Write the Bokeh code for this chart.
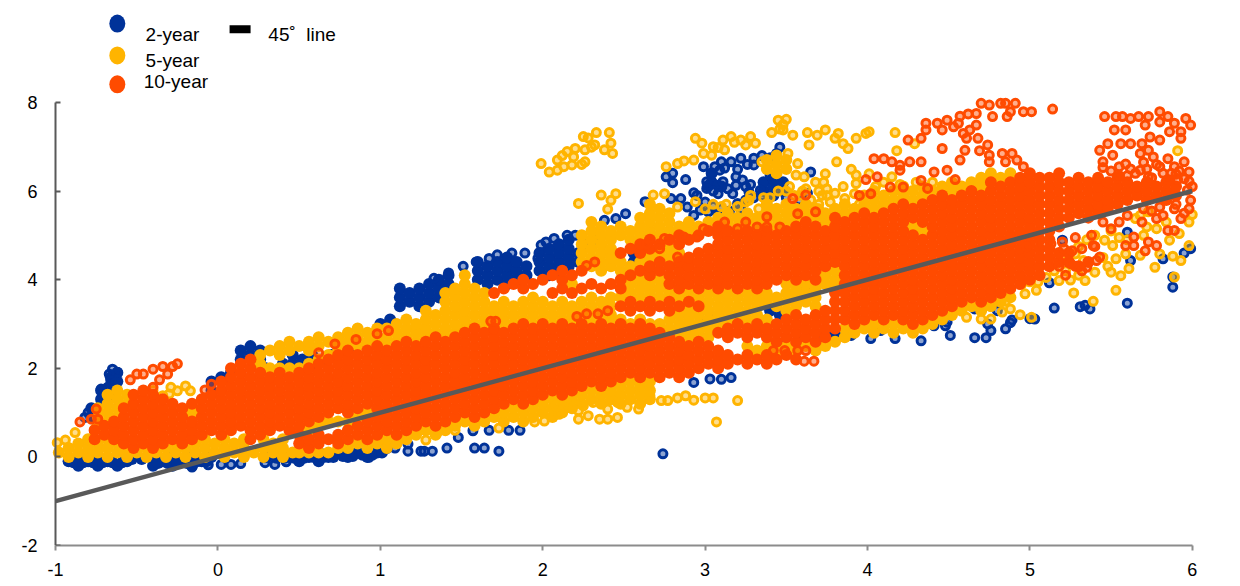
from bokeh.plotting import figure
from bokeh.models import Label, FixedTicker, LinearAxis
from bokeh.embed import file_html
from bokeh.resources import INLINE

BLUE, YELLOW, ORANGE = "#003299", "#FFB400", "#FF4B00"
x_ticks = [-1, 0, 1, 2, 3, 4, 5, 6]
y_ticks = [-2, 0, 2, 4, 6, 8]
line_x = [-1, 6]
line_y = [-1, 6]

# Densely overlapping regions, read column by column: (x, [y values])
blue_dense = [
 (-.92,[-.1]),(-.86,[-.2,0]),(-.80,[-.1]),(-.74,[-.2,0]),(-.68,[-.1]),(-.62,[-.2]),(-.56,[-.1]),
 (-.40,[-.2,0]),(-.34,[-.1]),(-.28,[-.2,0]),(-.22,[-.1]),(-.16,[-.2,0]),(-.10,[-.1]),(-.04,[0]),
 (.30,[0]),(.44,[0]),(.50,[-.1]),(.56,[0]),(.62,[-.1,.1]),(.68,[0]),(.74,[.1]),(.80,[0]),(.86,[.1]),(.92,[0]),(.98,[.1]),(1.04,[.2]),
 (-.72,[1.3,1.5]),(-.66,[1.4,1.6,1.8]),(-.62,[1.7,1.9]),(-.78,[.9,1.1]),
 (-.04,[1.5,1.7]),(.02,[1.8]),(.08,[1.9]),(.14,[2.2,2.4]),(.20,[2.3,2.5]),(.26,[2.2,2.4]),
 (.40,[2.1]),(.46,[2.1,2.3]),(.52,[2.2]),(.58,[2.1,2.3]),(.64,[2.2]),(.70,[2.3]),(.76,[2.4]),(.82,[2.5]),
 (1.00,[3.0]),(1.06,[3.1]),(1.12,[3.4,3.6,3.8]),(1.18,[3.5,3.7]),(1.24,[3.4,3.6,3.8]),(1.30,[3.5,3.7,3.9]),(1.36,[3.6,3.8,4.0]),
 (1.42,[3.9,4.1]),(1.60,[4.0,4.2,4.4]),(1.66,[3.9,4.1,4.3]),(1.72,[4.0,4.2,4.4]),(1.78,[3.9,4.1,4.3,4.5]),(1.84,[4.0,4.2,4.4]),(1.90,[4.1,4.3]),
 (1.98,[4.2,4.4,4.6]),(2.04,[4.1,4.3,4.5,4.7]),(2.10,[4.2,4.4,4.6,4.8]),(2.16,[4.3,4.5,4.7,4.9]),(2.22,[4.4,4.6]),
 (2.56,[4.4,4.6]),(2.62,[4.5,4.7]),(3.36,[6.0,6.2]),(3.42,[5.9,6.1,6.3]),(3.48,[6.0,6.2]),(3.04,[6.2,6.4]),(3.10,[6.1]),
 (3.40,[3.3]),(3.46,[3.2]),(3.00,[3.0]),(3.06,[3.1]),(3.60,[3.8]),(3.66,[3.7]),
 (-.89,[-.12]),(-.83,[-.12]),(-.77,[-.12]),(-.71,[-.12]),(-.65,[-.12]),(-.59,[-.12]),(-.53,[-.05]),(-.47,[-.05]),(-.37,[-.14]),(-.31,[-.14]),(-.25,[-.14]),(-.19,[-.14]),(-.13,[-.1]),(-.07,[-.1]),
 (.36,[-.02]),(.41,[-.02]),(.47,[-.02]),(.53,[-.02]),(.59,[0]),(.65,[0]),(.71,[0]),(.77,[.02]),(.83,[.02]),(.89,[.05]),(.95,[.05]),(1.01,[.1]),
 (3.02,[6.12]),(3.08,[6.12]),(3.74,[2.72]),(3.80,[2.78]),
]
blue_rings = [
 (2.74,.07),(1.73,.13),(1.64,.2),(1.58,.2),(1.41,.2),(1.32,.13),(1.27,.13),(1.48,.44),(1.4,.65),(1.57,.59),(1.67,.6),(1.79,.6),(1.86,.6),
 (3.16,1.79),(3.03,1.76),(2.93,1.68),(3.1,1.75),(.93,-.01),(1.09,.2),(1.17,.29),(1.17,.13),(1.25,.13),(.35,-.17),(.42,-.11),(.14,-.15),(.08,-.17),(.02,-.17),(-.06,-.18),(-.16,-.23),(.29,-.13),
 (-.65,1.98),(-.62,1.91),(-.67,1.87),(-.66,1.72),(-.63,1.68),(-.72,1.53),(-.68,1.57),(-.7,1.34),(-.8,1.0),(-.82,.89),(.29,2.02),(.05,1.76),
 (1.33,4.03),(1.42,4.15),(1.51,4.3),(1.59,4.4),(1.67,4.48),(1.72,4.56),(1.81,4.6),(1.89,4.6),(1.97,4.48),(1.99,4.78),(2.02,4.85),(2.07,4.93),(2.15,5.0),(2.2,5.0),(2.24,4.97),(2.25,4.78),(2.31,4.9),
 (2.76,6.32),(2.8,6.4),(2.8,6.19),(2.88,6.26),(2.99,6.55),(3.1,6.66),(3.16,6.66),(3.22,6.74),(3.3,6.74),(3.3,6.59),(3.44,6.85),(3.46,6.99),(3.09,6.47),(3.2,6.49),(3.19,6.32),(3.23,6.25),
 (3.01,6.21),(3.01,6.06),(3.11,6.21),(3.08,5.94),(2.93,5.96),(3.19,6.13),(3.34,6.02),(3.42,6.25),(3.4,6.36),(3.65,6.43),(2.63,5.76),(2.79,5.83),(2.85,5.83),(2.89,5.64),(2.97,5.57),(3.02,5.53),(3.08,5.49),(2.93,5.45),(3.22,5.6),(3.17,5.94),(3.27,5.98),(2.51,5.49),(2.45,5.38),(2.38,5.34),
 (5.12,3.93),(5.15,3.36),(5.31,3.39),(5.34,3.42),(5.37,3.34),(5.6,3.47),(5.88,3.83),(5.88,4.06),(5.82,4.47),(5.99,4.7),(5.95,4.6),(5.6,5.07),(5.62,4.43),(5.43,5.63),(5.2,4.89),(5.03,3.11),(4.89,3.09),(4.8,3.3),(4.85,2.89),(4.74,3.0),(4.66,3.34),(4.49,3.04),(4.41,2.96),
 (4.02,2.67),(4.17,2.67),(4.33,2.62),(4.51,2.74),(4.66,2.69),(4.73,2.69),(4.76,2.85),(4.88,3.03),(5.0,3.12),(4.48,2.96),(4.23,2.96),(4.08,2.85),(3.9,2.74),(3.71,2.69),(3.59,2.62),(3.46,2.51),
 (2.95,5.9),(3.0,5.75),(3.05,5.65),(3.1,5.6),(3.15,5.55),(3.2,5.72),(3.25,5.8),(3.3,5.85),(3.35,5.9),(3.05,6.0),(3.14,6.05),(3.25,6.1),(3.28,6.15),(3.38,5.7),(3.5,5.85),(3.58,5.8),(3.63,5.95),(3.06,6.55),(3.12,6.52),(3.26,6.6),(3.35,6.8),(3.4,6.75),
]

yellow_dense_left = [
 (-.98,[.1]),(-.92,[0,.2]),(-.86,[.1,.3]),(-.80,[0,.2,.4]),(-.74,[.1,.3,.7,.9,1.1]),(-.68,[0,.2,.4,.8,1.0,1.2,1.4]),(-.62,[.1,.3,.9,1.1,1.3,1.5]),(-.56,[0,.2,1.2,1.4]),
 (-.50,[.1,.3]),(-.44,[0,.2]),(-.38,[.1]),(-.32,[0,.2]),(-.26,[.1,.3]),(-.20,[0,.2,.4]),(-.16,[1.0]),(-.14,[.1,.3]),(-.08,[0,.2,.4]),(-.02,[.1,.3]),(.04,[0,.2,.4]),(.10,[.1,.3]),(.16,[0,.2,.4]),(.22,[.1]),(.28,[0,.2,.4]),(.34,[.1,.3]),(.40,[0,.2,.4]),
 (.46,[.1]),(.50,[.1,.6]),(.56,[.1,.6]),(.62,[.1,.7]),(.68,[.1,.8]),(.74,[.2,.8]),(.80,[.2,.8]),(.86,[.3,.9]),(.92,[.2,1.0]),(.98,[.3]),(1.04,[.2,.4]),(1.10,[.3]),(1.16,[.4]),(1.22,[.5]),(1.28,[.6]),
 (.26,[2.1,2.3]),(.32,[2.0,2.4]),(.38,[2.0,2.3,2.5]),(.44,[2.0,2.4,2.6]),(.50,[2.0,2.5]),(.56,[2.1,2.4,2.6]),(.62,[2.2,2.5,2.7]),(.68,[2.3,2.6]),(.74,[2.4,2.5,2.7]),(.80,[2.5,2.6,2.8]),(.86,[2.5,2.7,2.9]),(.92,[2.6,2.8]),(.98,[2.6,2.7,2.9]),(1.04,[2.5,2.7,2.9]),(1.10,[2.6,2.8,3.0]),
]
yellow_dense_mid = [
 (1.16,[2.7,2.9,3.1]),(1.22,[2.6,2.8,3.0]),(1.28,[2.7,2.9,3.1,3.3]),(1.34,[2.8,3.0,3.2]),(1.40,[2.7,2.9,3.1,3.3,3.5,3.7]),(1.46,[2.8,3.0,3.2,3.4,3.6,3.8]),(1.52,[2.9,3.1,3.3,3.5,3.7,3.9,4.1]),(1.58,[3.0,3.2,3.4,3.6,3.8]),(1.64,[2.9,3.1,3.3,3.5,3.7]),
 (1.70,[3.0,3.2,3.4]),(1.76,[2.9,3.1,3.3,3.5]),(1.82,[3.0,3.2,3.4]),(1.88,[3.1,3.3,3.5]),(1.94,[3.0,3.2,3.4,3.6]),(2.00,[3.1,3.3,3.5]),(2.06,[3.0,3.2,3.4]),(2.12,[3.1,3.3,3.5]),
 (2.18,[3.0,3.2,3.4,3.9]),(2.24,[3.1,3.3,3.5,4.4,4.6,4.8,5.0]),(2.30,[3.0,3.2,3.4,3.6,4.3,4.5,4.7,4.9,5.1,5.3]),(2.36,[3.1,3.3,3.5,4.2,4.4,4.6,4.8,5.0,5.2]),(2.42,[3.0,3.2,3.4,3.6,4.3,4.5,4.7,4.9,5.1]),
 (2.48,[3.1,3.6,4.2,4.4,5.0,5.2]),(2.54,[3.0,3.7,3.9,4.3,4.9,5.1]),(2.60,[3.1,3.6,3.8,4.0,4.4,5.0,5.2,5.4]),(2.66,[3.0,3.7,3.9,4.5,5.1,5.3,5.5,5.7]),(2.72,[3.0,3.6,3.8,4.0,4.6,5.0,5.2,5.4,5.6]),(2.78,[2.9,3.1,3.7,4.5,4.7,5.1,5.3,5.5]),
 (2.84,[2.8,3.0,3.2,3.6,4.6,5.2]),(2.90,[2.7,2.9,3.1,3.3,3.7,5.1,5.3]),(2.96,[2.8,3.0,3.2,3.6,5.2]),(3.02,[2.7,2.9,3.1,3.3,3.5,3.7,5.3]),(3.08,[3.0,3.2,3.4,3.6,5.4]),
 (3.14,[3.1,3.3,3.5,3.7,5.3,5.5]),(3.20,[3.2,3.4,3.6,5.2,5.4]),(3.26,[3.1,3.3,3.5,3.7,2.5,5.3,5.5]),(3.32,[3.2,3.4,3.6,2.4,5.2,5.4]),(3.38,[3.1,3.5,3.7,2.5,5.3,5.5,5.7,6.5,6.7]),(3.44,[3.4,3.6,2.4,5.2,5.4,5.6,6.4,6.6,6.8]),(3.50,[3.3,3.5,3.7,3.9,2.5,5.3,5.5,5.7,6.5,6.7]),(3.56,[3.4,3.6,3.8,2.4,5.4,5.6]),(3.62,[3.5,3.7,3.9,2.5,5.5,5.7]),(3.68,[3.4,3.6,3.8,2.4,5.4,5.6]),
 (3.74,[2.5,3.9,4.1,5.3,5.5]),(3.80,[2.6,3.8,4.0,4.2,5.4,5.6]),(3.86,[2.7,2.9,5.5,5.7]),(3.92,[2.8,5.6]),(3.98,[2.9,5.7,5.9]),(4.04,[2.8,3.0,5.6,5.8,6.0]),(4.10,[2.9,5.7,5.9]),(4.16,[2.8,3.0,5.8,6.0]),(4.22,[2.9,5.9,6.1]),(4.28,[2.8,5.2,5.8,6.0]),(4.34,[2.9,5.1,5.9,6.1]),(4.40,[3.0,6.0]),(4.46,[3.1,6.1]),(4.52,[3.2,6.0,6.2]),(4.58,[3.3,6.1]),(4.64,[3.4,6.2]),(4.70,[3.3,6.1,6.3]),(4.76,[3.4,6.4]),(4.82,[3.5,6.3]),(4.88,[3.6,6.4]),
 (1.34,[.5]),(1.40,[.6]),(1.46,[.7]),(1.52,[.8]),(1.58,[.7]),(1.64,[.8]),(1.70,[.9]),(1.76,[.8,1.0]),(1.82,[.9,1.1]),(1.88,[.8,1.0]),(1.94,[.9,1.1]),(2.00,[1.0,1.2]),(2.06,[.9,1.1,1.3]),(2.12,[1.0,1.2]),(2.18,[1.1,1.3]),(2.24,[1.2,1.4]),(2.30,[1.3,1.5]),(2.36,[1.2,1.4]),(2.42,[1.3,1.5]),(2.48,[1.2,1.4,1.6]),(2.54,[1.3,1.5,1.7]),(2.60,[1.2,1.4,1.6]),(2.66,[1.3,1.5,1.7]),
]
yellow_rings = [
 (-.99,.32),(-.94,.38),(-.88,.55),(-.76,.62),(-.29,1.57),(-.25,1.49),(-.2,1.6),(-.17,1.49),(-.34,1.38),(-.4,1.5),(-.3,1.42),
 (1.99,6.62),(2.04,6.43),(2.09,6.47),(2.09,6.7),(2.13,6.55),(2.15,6.89),(2.19,6.77),(2.2,6.96),(2.18,6.59),(2.26,6.66),(2.26,6.93),(2.25,7.23),(2.32,7.04),(2.33,7.32),(2.41,7.32),(2.38,6.93),(2.42,7.08),(2.43,6.85),(2.22,5.72),(2.36,5.91),(2.45,5.94),(2.42,5.79),(2.4,5.59),(2.28,7.2),(2.3,6.99),(2.12,6.8),(2.24,6.6),
 (2.76,6.55),(2.83,6.62),(2.87,6.68),(2.93,6.7),(3.04,6.81),(2.99,6.85),(2.94,7.19),(2.98,7.08),(3.05,7.0),(3.11,7.15),(3.16,7.23),(3.22,7.15),(3.28,7.23),(3.31,7.08),(3.25,7.04),(3.12,6.93),(3.08,6.98),(3.18,7.1),
 (3.41,7.32),(3.45,7.6),(3.5,7.62),(3.48,7.38),(3.54,7.26),(3.63,7.32),(3.69,7.26),(3.64,7.04),(3.35,6.66),(3.57,6.62),(3.56,6.36),(3.61,6.32),(3.51,6.85),(3.46,7.4),(3.48,7.5),
 (2.94,5.76),(2.83,5.64),(2.68,5.91),(2.75,5.94),(3.27,5.79),(3.36,5.85),(3.4,5.85),(3.0,5.6),(3.05,5.7),(3.1,5.65),(3.28,5.9),(3.33,5.6),(3.45,6.0),(3.52,6.1),(3.58,5.9),(3.62,6.05),(3.7,6.0),(3.75,5.9),(3.68,6.2),
 (3.13,5.7),(3.2,5.65),(3.25,5.75),(3.5,6.0),(3.55,5.9),(3.6,6.0),(3.65,5.8),(3.7,5.7),(3.72,5.9),(3.55,5.6),(3.75,6.05),(3.8,5.95),(3.85,6.1),(3.95,5.7),(4.05,6.1),(4.1,6.2),(4.2,6.15),(4.3,6.2),(4.4,6.2),(3.7,5.6),(3.72,5.5),
 (4.01,7.34),(3.82,7.3),(3.74,7.38),(3.8,7.19),(3.85,7.07),(3.93,7.19),(3.88,6.96),(4.17,7.32),(4.18,6.91),(4.29,7.07),(3.81,6.66),(3.9,6.49),(3.93,6.36),(3.93,6.17),(3.74,6.39),(3.73,6.2),(4.01,6.39),(4.15,6.32),(3.77,5.75),(3.86,5.83),(3.92,5.94),(5.91,6.91),(4.63,6.13),(3.99,7.3),
 (6,5.47),(5.98,5.3),(5.84,5.3),(5.68,5.45),(5.73,5.53),(5.65,5.38),(5.72,5.19),(5.46,4.89),(5.51,4.77),(5.53,4.47),(5.59,4.58),(5.61,4.25),(5.56,4.09),(5.5,4.17),(5.4,4.17),(5.77,4.28),(5.88,4.53),(5.93,4.43),(5.98,4.77),(5.92,5.04),(5.86,4.89),(5.8,4.58),(5.68,4.55),(5.89,4.06),
 (5.5,5.1),(5.4,5.0),(5.35,4.9),(5.3,4.75),(5.55,4.95),(5.6,4.9),(5.7,5.0),(5.78,5.15),(5.2,4.55),(5.15,4.2),(5.1,4.05),(5.22,4.2),(5.45,4.5),(5.48,4.3),(5.3,4.1),(5.05,3.95),(5.0,3.95),(4.95,3.9),
 (5.53,3.76),(5.39,3.51),(5.27,3.7),(5.34,3.98),(5.25,3.99),(5.18,3.98),(5.28,4.58),(5.33,4.43),(5.04,3.76),(4.97,3.68),(4.85,3.51),(4.88,3.34),(4.94,3.21),(5.01,3.15),(4.83,3.27),(4.76,3.11),(4.7,3.11),(4.61,3.15),(4.37,3.0),
 (3.2,1.27),(3.07,.79),(3.05,1.33),(3.0,1.33),(2.93,1.28),(2.88,1.38),(2.83,1.33),(2.77,1.27),(2.73,1.27),(2.66,1.38),(2.59,1.08),(2.52,1.12),(2.46,.89),(2.4,.85),(2.35,.85),(2.28,.93),(2.22,.85),(2.22,1.04),(2.25,1.15),(2.1,.96),(2.08,1.15),(2.01,.81),(1.95,.79),(1.73,.65),(1.46,.6),(1.35,.55),(1.28,.38),(2.15,1.19),(2.31,1.23),(2.4,1.08),(2.46,1.23),
]

orange_dense_left = [
 (-.76,[.4,.6]),(-.70,[.5,.7]),(-.64,[.4,.6,.8]),(-.58,[.3,.5,.7,.9,1.1]),(-.52,[.2,.4,.6,.8,1.0,1.2,1.4]),(-.46,[.3,.5,.7,.9,1.1,1.3,1.5]),(-.40,[.2,.4,.6,.8,1.0,1.2,1.4]),(-.34,[.3,.5,.7,.9,1.1,1.3]),(-.28,[.4,.6,.8,1.0,1.2]),(-.22,[.3,.5,.7,.9,1.1]),(-.16,[.4,.6,.8,1.2]),(-.10,[.5,.7,.9,1.1,1.3]),(-.04,[.6,.8,1.0,1.2,1.4]),
 (.02,[.5,.7,.9,1.1,1.3,1.5,1.7]),(.08,[.6,.8,1.0,1.2,1.4,1.6,1.8,2.0]),(.14,[.7,.9,1.1,1.3,1.5,1.7,1.9,2.1]),(.20,[.4,.6,.8,1.0,1.2,1.4,1.6,1.8,2.0,2.2]),(.26,[.5,.7,.9,1.1,1.3,1.5,1.7,1.9]),(.32,[.6,.8,1.0,1.2,1.4,1.6,1.8]),(.38,[.7,.9,1.1,1.3,1.5,1.7,1.9]),(.44,[.6,.8,1.0,1.2,1.4,1.6,1.8]),
 (.50,[.3,.5,.7,.9,1.1,1.3,1.5,1.7,1.9]),(.56,[.2,.4,.8,1.0,1.2,1.4,1.6,1.8,2.0]),(.62,[.3,.5,.9,1.1,1.3,1.5,1.7,1.9,2.1]),(.68,[.4,1.0,1.2,1.4,1.6,1.8,2.0,2.2]),(.74,[.3,.5,1.1,1.3,1.5,1.7,1.9,2.1,2.3]),(.80,[.4,.6,1.0,1.2,1.4,1.6,1.8,2.0,2.2,2.4]),(.86,[.5,.7,1.1,1.3,1.5,1.7,1.9,2.1,2.3]),(.92,[.4,.6,.8,1.2,1.4,1.6,1.8,2.0,2.2,2.4]),
 (.98,[.5,.7,.9,1.1,1.3,1.5,1.7,1.9,2.1,2.3,2.5]),(1.04,[.6,.8,1.0,1.2,1.4,1.6,1.8,2.0,2.2,2.4]),(1.10,[.5,.7,.9,1.1,1.3,1.5,1.7,1.9,2.1,2.3,2.5]),(1.16,[.6,.8,1.0,1.2,1.4,1.6,1.8,2.0,2.2,2.4,2.6]),(1.22,[.7,.9,1.1,1.3,1.5,1.7,1.9,2.1,2.3,2.5]),(1.28,[.8,1.0,1.2,1.4,1.6,1.8,2.0,2.2,2.4,2.6]),
 (1.34,[.7,.9,1.1,1.3,1.5,1.7,1.9,2.1,2.3,2.5,2.7]),(1.40,[.8,1.0,1.2,1.4,1.6,1.8,2.0,2.2,2.4,2.6]),(1.46,[.9,1.1,1.3,1.5,1.7,1.9,2.1,2.3,2.5,2.7]),(1.52,[1.0,1.2,1.4,1.6,1.8,2.0,2.2,2.4,2.6,2.8]),(1.58,[.9,1.1,1.3,1.5,1.7,1.9,2.1,2.3,2.5,2.7,2.9]),(1.64,[1.0,1.2,1.4,1.6,1.8,2.0,2.2,2.4,2.6,2.8]),
]
orange_dense_mid = [
 (1.70,[1.1,1.3,1.5,1.7,1.9,2.1,2.3,2.5,2.7,2.9,3.7]),(1.76,[1.2,1.4,1.6,1.8,2.0,2.2,2.4,2.6,2.8,3.8]),(1.82,[1.3,1.5,1.7,1.9,2.1,2.3,2.5,2.7,2.9,3.9]),(1.88,[1.2,1.4,1.6,1.8,2.0,2.2,2.4,2.6,2.8,3.0,3.8,4.0]),(1.94,[1.3,1.5,1.7,1.9,2.1,2.3,2.5,2.7,2.9,3.9]),(2.00,[1.4,1.6,1.8,2.0,2.2,2.4,2.6,2.8,3.0,4.0]),
 (2.06,[1.5,1.7,1.9,2.1,2.3,2.5,2.7,2.9,3.7,4.1]),(2.12,[1.4,1.6,1.8,2.0,2.2,2.4,2.6,2.8,3.0,3.8,4.0,4.2]),(2.18,[1.5,1.7,1.9,2.1,2.3,2.5,2.7,2.9,3.7,4.1]),(2.24,[1.6,1.8,2.0,2.2,2.4,2.6,2.8,3.0,3.8,4.2]),(2.30,[1.7,1.9,2.1,2.3,2.5,2.7,2.9,3.9]),(2.36,[1.6,1.8,2.0,2.2,2.4,2.6,2.8,3.0,3.8]),(2.42,[1.7,1.9,2.1,2.3,2.5,2.7,2.9,3.9]),
 (2.48,[1.8,2.0,2.2,2.4,2.6,2.8,3.0,3.4,3.8,4.0,4.6]),(2.54,[1.9,2.1,2.3,2.5,2.7,2.9,3.3,3.5,4.1,4.7]),(2.60,[1.8,2.0,2.2,2.4,2.6,2.8,3.0,3.4,4.2,4.6,4.8]),(2.66,[1.9,2.1,2.3,2.5,2.7,2.9,3.3,3.5,4.1,4.3,4.7,4.9]),(2.72,[1.8,2.0,2.2,2.4,2.6,2.8,3.4,4.2,4.4,4.8]),(2.78,[1.9,2.1,2.3,2.5,2.7,3.3,3.5,3.9,4.1,4.3,4.9]),
 (2.84,[1.8,2.0,2.2,2.4,2.6,3.4,3.8,4.0,4.2,4.4,4.8,5.0]),(2.90,[1.9,2.1,2.3,2.5,3.5,3.9,4.1,4.3,4.5,4.9]),(2.96,[2.0,2.2,2.4,2.6,3.4,3.8,4.0,4.2,4.4,4.6,5.0]),(3.02,[2.1,2.3,2.5,3.9,4.1,4.3,4.5,4.7,5.1]),(3.08,[2.0,2.2,2.4,2.8,3.8,4.0,4.2,4.4,4.6,4.8,5.0,5.2]),
 (3.14,[2.1,2.3,2.7,2.9,3.9,4.1,4.3,4.5,4.7,4.9,5.1]),(3.20,[2.2,2.8,3.0,3.8,4.0,4.2,4.4,4.6,4.8,5.0]),(3.26,[2.1,2.3,2.7,2.9,3.9,4.1,4.3,4.5,4.7,4.9,5.1]),(3.32,[2.2,2.8,3.0,3.8,4.0,4.2,4.4,4.6,4.8,5.0]),(3.38,[2.1,2.3,2.7,2.9,3.9,4.1,4.3,4.5,4.7,4.9,5.1]),(3.44,[2.2,2.6,2.8,3.0,4.0,4.2,4.4,4.6,4.8,5.0]),(3.50,[2.3,2.7,2.9,3.1,4.1,4.3,4.5,4.7,4.9,5.1]),(3.56,[2.2,2.6,2.8,3.0,3.2,4.0,4.2,4.4,4.6,4.8,5.0,5.2]),(3.62,[2.7,2.9,3.1,4.1,4.3,4.5,4.7,4.9,5.1,5.3]),(3.68,[2.6,2.8,3.0,3.2,4.0,4.2,4.4,4.6,4.8,5.0,5.2]),
 (3.74,[2.7,2.9,3.1,3.3,4.3,4.5,4.7,4.9,5.1]),(3.80,[2.9,3.1,3.3,3.5,3.7,4.4,4.6,4.8,5.0,5.2,5.4]),
]
orange_dense_right = [
 (3.86,[3.1,3.3,3.5,3.7,3.9,4.1,4.3,4.5,4.7,4.9,5.1,5.3]),(3.92,[3.0,3.2,3.4,3.6,3.8,4.0,4.2,4.4,4.6,4.8,5.0,5.2,5.4]),(3.98,[3.1,3.3,3.5,3.7,3.9,4.1,4.3,4.5,4.7,4.9,5.1,5.3,5.5]),(4.04,[3.2,3.4,3.6,3.8,4.0,4.2,4.4,4.6,4.8,5.0,5.2,5.4]),(4.10,[3.1,3.3,3.5,3.7,3.9,4.1,4.3,4.5,4.7,4.9,5.1,5.3,5.5]),(4.16,[3.2,3.4,3.6,3.8,4.0,4.2,4.4,4.6,4.8,5.0,5.2,5.4,5.6]),(4.22,[3.1,3.3,3.5,3.7,3.9,4.1,4.3,4.5,4.7,4.9,5.1,5.3,5.5,5.7]),
 (4.28,[3.0,3.2,3.4,3.6,3.8,4.0,4.2,4.4,4.6,4.8,5.0,5.4,5.6]),(4.34,[3.1,3.3,3.5,3.7,3.9,4.1,4.3,4.5,4.7,4.9,5.3,5.5,5.7]),(4.40,[3.2,3.4,3.6,3.8,4.0,4.2,4.4,4.6,4.8,5.0,5.2,5.4,5.6,5.8]),(4.46,[3.3,3.5,3.7,3.9,4.1,4.3,4.5,4.7,4.9,5.1,5.3,5.5,5.7,5.9]),(4.52,[3.4,3.6,3.8,4.0,4.2,4.4,4.6,4.8,5.0,5.2,5.4,5.6,5.8]),(4.58,[3.5,3.7,3.9,4.1,4.3,4.5,4.7,4.9,5.1,5.3,5.5,5.7,5.9]),
 (4.64,[3.6,3.8,4.0,4.2,4.4,4.6,4.8,5.0,5.2,5.4,5.6,5.8,6.0]),(4.70,[3.5,3.7,3.9,4.1,4.3,4.5,4.7,4.9,5.1,5.3,5.5,5.7,5.9]),(4.76,[3.6,3.8,4.0,4.2,4.4,4.6,4.8,5.0,5.2,5.4,5.6,5.8,6.0,6.2]),(4.82,[3.7,3.9,4.1,4.3,4.5,4.7,4.9,5.1,5.3,5.5,5.7,5.9,6.1]),(4.88,[3.8,4.0,4.2,4.4,4.6,4.8,5.0,5.2,5.4,5.6,5.8,6.0,6.2]),(4.94,[3.9,4.1,4.3,4.5,4.7,4.9,5.1,5.3,5.5,5.7,5.9,6.1,6.3]),(5.00,[4.0,4.2,4.4,4.6,4.8,5.0,5.2,5.4,5.6,5.8,6.0,6.2,6.4]),(5.06,[4.1,4.3,4.5,4.7,4.9,5.1,5.3,5.5,5.7,5.9,6.1,6.3]),
 (5.12,[4.3,4.5,4.7,4.9,5.1,5.3,5.5,5.7,5.9,6.1,6.3]),(5.18,[4.4,4.6,5.2,5.4,5.6,5.8,6.0,6.2,6.4]),(5.24,[4.4,4.6,5.4,5.6,5.8,6.0,6.2]),(5.30,[4.3,5.5,5.7,5.9,6.1,6.3]),(5.36,[4.4,5.4,5.6,5.8,6.0,6.2]),(5.42,[5.5,5.7,5.9,6.1,6.3]),(5.48,[5.6,5.8,6.0,6.2]),(5.54,[5.7,5.9,6.1,6.3]),(5.60,[5.8,6.0,6.2]),(5.66,[5.9,6.1]),(5.72,[5.8,6.0,6.2]),(5.78,[5.9,6.1]),(5.84,[5.8,6.0,6.2]),(5.90,[5.9,6.1]),
]
orange_rings = [
 (-.85,.79),(-.78,.85),(-.74,.85),(-.75,1.08),(-.54,1.74),(-.5,1.87),(-.46,1.87),(-.4,1.98),(-.34,2.04),(-.31,1.87),(-.28,2.04),(-.25,2.1),(-.36,1.74),(-.4,1.57),(-.04,1.64),(-.08,1.51),(-.39,1.34),
 (3.54,5.83),(3.62,5.91),(3.38,5.42),(3.38,5.19),(3.57,5.49),(3.68,5.53),(2.87,4.96),(2.95,4.96),(2.99,5.15),(3.12,5.3),(3.2,5.15),(3.25,5.3),(3.32,5.19),(3.46,5.19),(2.27,4.32),(2.32,4.4),(2.4,3.3),(2.21,3.17),(2.27,3.23),(2.34,3.23),(2.83,4.51),(2.72,4.7),(2.64,4.81),(2.75,4.93),(1.68,3.06),(1.71,3.06),
 (3.61,2.16),(3.67,2.16),(3.57,2.4),(3.62,2.4),(3.49,2.4),(3.42,2.4),(.62,2.35),(.72,2.55),(.85,2.65),(.98,2.78),(1.05,2.85),
 (4.25,7.15),(4.33,7.19),(4.36,7.53),(4.36,7.38),(4.43,7.53),(4.46,7.38),(4.49,7.6),(4.53,7.45),(4.56,7.53),(4.57,7.69),(4.62,7.74),(4.67,7.75),(4.70,7.98),(4.75,7.94),(4.82,7.98),(4.85,7.98),(4.91,7.98),(4.88,7.79),(4.77,7.68),(4.86,7.68),(4.96,7.79),(5.01,7.79),(5.14,7.85),
 (4.59,7.3),(4.63,7.38),(4.67,7.49),(4.61,7.19),(4.68,7.19),(4.74,7.04),(4.6,6.92),(4.69,6.91),(4.75,6.81),(4.75,6.66),(4.57,6.7),(4.46,6.96),(4.83,6.85),(4.89,6.85),(4.85,6.66),(4.92,6.7),(4.96,6.55),
 (4.04,6.73),(4.1,6.73),(4.15,6.66),(4.2,6.58),(4.26,6.66),(4.33,6.66),(4.2,6.47),(4.41,6.43),(4.49,6.47),(4.54,6.26),(3.99,6.26),(4.06,6.32),(4.02,5.94),(4.14,6.09),(4.22,6.09),(4.33,6.24),(4.37,6.06),(3.95,5.9),
 (5.46,7.68),(5.53,7.68),(5.57,7.68),(5.62,7.64),(5.67,7.68),(5.73,7.68),(5.8,7.79),(5.85,7.68),(5.96,7.64),(5.99,7.49),(5.89,7.53),(5.8,7.56),(5.71,7.49),(5.59,7.38),(5.52,7.38),(5.93,7.34),(5.86,7.34),(5.93,7.19),(5.8,7.15),(5.74,7.22),(5.69,7.07),(5.62,7.07),(5.56,7.07),(5.48,7.07),(5.43,6.92),(5.51,6.81),(5.68,6.85),(5.45,6.66),(5.45,6.53),(5.59,6.61),(5.73,6.92),(5.76,6.77),(5.85,6.73),(5.95,6.66),(5.98,6.43),(5.89,6.55),(5.8,6.55),(5.68,6.47),(5.85,6.26),(5.91,6.26),(5.73,6.32),(5.78,6.6),(5.62,6.5),(5.7,6.65),(5.92,6.45),
 (5.5,6.45),(5.55,6.55),(5.65,6.4),(5.72,6.5),(5.82,6.4),(5.9,6.38),(5.95,6.28),(6.0,6.1),(5.98,6.22),(5.87,6.4),(5.6,6.35),(5.75,6.3),(5.55,6.35),
 (5.97,6.02),(5.99,5.79),(5.98,5.6),(5.89,5.6),(5.8,5.64),(5.78,5.38),(5.93,5.38),(5.69,5.3),(5.85,5.11),(5.89,5.11),(5.64,4.96),(5.59,4.77),(5.64,4.77),(5.73,4.85),(5.78,4.77),(5.71,4.65),(5.39,4.77),(5.43,4.51),(5.35,4.28),(5.41,4.43),(5.21,4.7),(5.26,4.65),(5.15,4.36),(5.25,4.36),(5.08,4.81),(5.13,4.81),(4.98,4.74),
 (5.45,5.3),(5.5,5.15),(5.6,5.45),(5.7,5.6),(5.75,5.55),(5.82,5.45),(5.9,5.7),(5.95,5.5),(5.55,5.3),(5.2,4.85),(5.28,4.95),(5.32,4.7),(5.38,5.0),(5.4,4.75),(5.18,4.3),(5.28,4.3),(5.32,4.2),(5.22,4.1),
]


def expand(*groups):
    xs, ys = [], []
    for group in groups:
        for x, values in group:
            for y in values:
                xs.append(x)
                ys.append(y)
    return xs, ys


def split(pairs):
    return [a for a, _ in pairs], [b for _, b in pairs]


p = figure(width=1232, height=578, x_range=(-1.05, 6.1), y_range=(-2, 10.12),
           output_backend="svg", toolbar_location=None, min_border_left=47,
           min_border_right=24, min_border_top=8, min_border_bottom=33,
           outline_line_color=None, background_fill_color="white")
p.grid.visible = False

for dense, rings, color in (
    (expand(blue_dense), split(blue_rings), BLUE),
    (expand(yellow_dense_left, yellow_dense_mid), split(yellow_rings), YELLOW),
    (expand(orange_dense_left, orange_dense_mid, orange_dense_right), split(orange_rings), ORANGE),
):
    p.scatter(dense[0], dense[1], size=12, marker="circle", color=color, line_color=None)
    p.scatter(rings[0], rings[1], size=8, marker="circle", line_color=color, line_width=3,
              fill_color=color, fill_alpha=0.45)

p.line(line_x, line_y, line_color="#595959", line_width=4.5)

ax = p.xaxis[0]
ax.bounds = (-1, 6)
ax.ticker = FixedTicker(ticks=x_ticks)
ax.major_label_overrides = {-1: "-1"}
ax.axis_line_color = "#8c8c8c"
ax.axis_line_width = 2
ax.major_tick_line_color = "#8c8c8c"
ax.major_tick_line_width = 2
ax.major_tick_in = 0
ax.major_tick_out = 5
ax.minor_tick_out = 0
ax.minor_tick_in = 0
ax.major_label_standoff = 12
ax.major_label_text_font = "Liberation Sans"
ax.major_label_text_font_size = "18px"
ax.major_label_text_color = "#000000"

# Axis line and ticks sit at x = -1, inside the frame's left edge
ay = p.yaxis[0]
ay.fixed_location = -1
ay.bounds = (-2, 8)
ay.ticker = FixedTicker(ticks=y_ticks)
ay.axis_line_color = "#595959"
ay.axis_line_width = 2
ay.major_tick_line_color = "#595959"
ay.major_tick_line_width = 2
ay.major_tick_in = 5
ay.major_tick_out = 0
ay.minor_tick_out = 0
ay.minor_tick_in = 0
ay.major_label_overrides = {t: "" for t in y_ticks}
ay.major_label_standoff = 0

# Tick labels come from a second, line-less axis at the frame's edge
labels_axis = LinearAxis(ticker=FixedTicker(ticks=y_ticks), major_label_overrides={-2: "-2"})
labels_axis.bounds = (-2, 8)
labels_axis.axis_line_color = None
labels_axis.major_tick_line_color = None
labels_axis.minor_tick_line_color = None
labels_axis.major_tick_in = 0
labels_axis.major_tick_out = 0
labels_axis.minor_tick_in = 0
labels_axis.minor_tick_out = 0
labels_axis.major_label_standoff = 10
labels_axis.major_label_text_font = "Liberation Sans"
labels_axis.major_label_text_font_size = "18px"
labels_axis.major_label_text_color = "#000000"
p.add_layout(labels_axis, "left")

# Legend
legend_x = [-.62, -.62, -.62]
legend_y = [9.78, 9.06, 8.41]
legend_colors = [BLUE, YELLOW, ORANGE]
p.ellipse(legend_x, legend_y, width=16, height=18, width_units="screen", height_units="screen",
          fill_color=legend_colors, line_color=None)
p.rect([.136], [9.65], width=21, height=8, width_units="screen", height_units="screen",
       fill_color="#000000", line_color=None)
for tx, ty, s in ((-.446, 9.54, "2-year"), (-.446, 8.95, "5-year"), (-.458, 8.48, "10-year"), (.31, 9.54, "45˚\u00a0\u00a0line")):
    p.add_layout(Label(x=tx, y=ty, text=s, text_font="Liberation Sans", text_font_size="19px",
                       text_color="#000000", text_baseline="alphabetic"))

open("out.html", "w").write(file_html(p, INLINE))
